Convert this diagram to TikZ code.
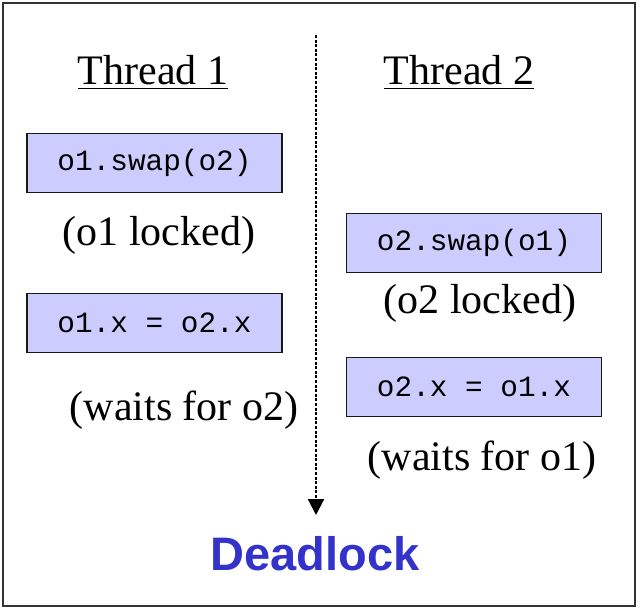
\documentclass[tikz,border=0pt]{standalone}
\usepackage{fontspec}
\setmainfont{Liberation Serif}
\setsansfont{Liberation Sans}
\setmonofont{Liberation Mono}
\usetikzlibrary{arrows.meta}

\definecolor{codefill}{RGB}{204,204,255}
\definecolor{deadblue}{RGB}{51,51,204}

\tikzset{
	codebox/.style={draw=black!90, line width=0.9pt, fill=codefill, minimum width=127.5pt, minimum height=29.5pt, inner sep=0pt, font=\fontsize{14.7}{17}\ttfamily},
	remark/.style={anchor=base, inner sep=0pt, font=\fontsize{21}{25}\selectfont},
}

\begin{document}
\begin{tikzpicture}[x=0.5pt, y=-0.5pt]
		\useasboundingbox (0,0) rectangle (640,609);
		% --- OUTER FRAME ---
		\draw[line width=0.9pt, draw=black!80] (3,3) rectangle (635,606);
		
		% --- THREAD HEADINGS ---
		\node[remark] (head1) at (153,85) {\underline{Thread 1}};
		\node[remark] (head2) at (459,85) {\underline{Thread 2}};
		
		% --- THREAD 1 (left column) ---
		\node[codebox] (swap1) at (154.5,163) {o1.swap(o2)};
		\node[remark] (lock1) at (159,245) {(o1 locked)};
		\node[codebox] (assign1) at (154.5,323) {o1.x = o2.x};
		\node[remark] (wait1) at (184,420) {(waits for o2)};
		
		% --- THREAD 2 (right column) ---
		\node[codebox] (swap2) at (474,243) {o2.swap(o1)};
		\node[remark] (lock2) at (480,313) {(o2 locked)};
		\node[codebox] (assign2) at (474,387) {o2.x = o1.x};
		\node[remark] (wait2) at (482,470) {(waits for o1)};
		
		% --- TIME LINE & RESULT ---
		\node[anchor=base, inner sep=0pt, text=deadblue, font=\fontsize{23.5}{28}\sffamily\bfseries] (dead) at (315,570) {Deadlock};
		\coordinate (tstart) at (316,35);
		\coordinate (tend) at (316,515);
		\draw[line width=1.1pt, dash pattern=on 1.5pt off 0.8pt, -{Triangle[length=8pt, width=8pt]}] (tstart) -- (tend);
		
	\end{tikzpicture}
\end{document}
